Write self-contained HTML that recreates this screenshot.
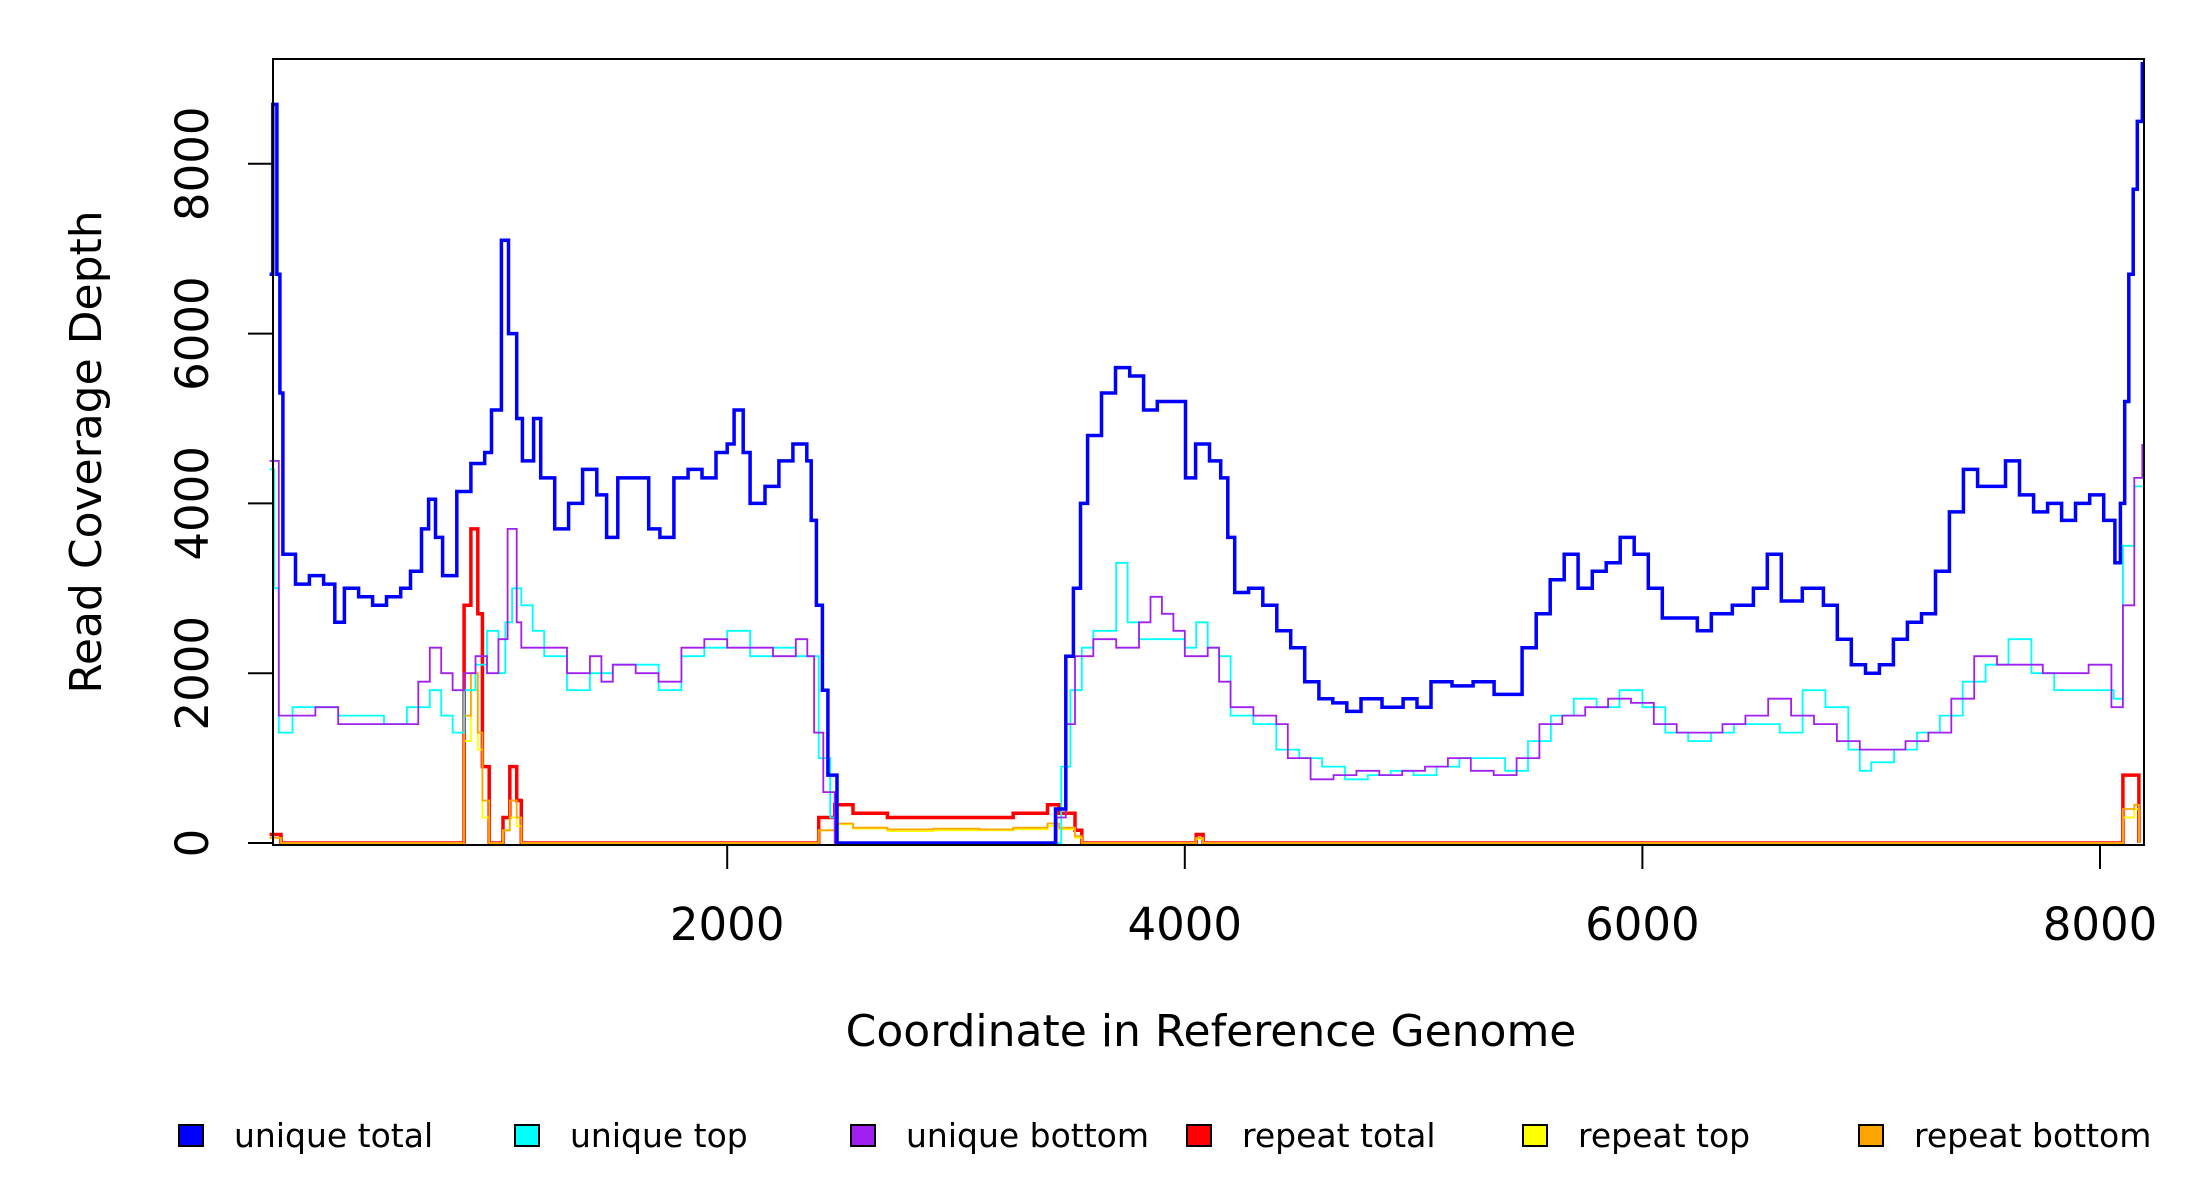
<!DOCTYPE html>
<html><head><meta charset="utf-8"><style>
html,body{margin:0;padding:0;background:#fff;}
svg{display:block;font-family:"DejaVu Sans","Liberation Sans",sans-serif;}
</style></head><body>
<svg id="chart" width="2200" height="1200" viewBox="0 0 2200 1200" xmlns="http://www.w3.org/2000/svg">
<rect x="0" y="0" width="2200" height="1200" fill="#fff"/>
<g id="series"></g>
<rect x="273" y="59" width="1871" height="786" fill="none" stroke="#000" stroke-width="2"/>
<g id="axes"></g>
<text x="1211" y="1046" font-size="44" text-anchor="middle">Coordinate in Reference Genome</text>
<text transform="translate(101,452) rotate(-90)" font-size="44" text-anchor="middle">Read Coverage Depth</text>
<g id="legend"></g>
</svg>
<script>
const xTicks=[2000,4000,6000,8000];
const yTicks=[0,2000,4000,6000,8000];
const seriesNames=["unique total","unique top","unique bottom","repeat total","repeat top","repeat bottom"];
const seriesColors=["#0000ff","#00ffff","#a020f0","#ff0000","#ffff00","#ffa500"];
const uniqueTotalX=[0,14,32,45,58,113,174,236,285,327,389,450,511,573,616,664,695,725,756,818,880,940,970,1013,1044,1080,1105,1154,1185,1246,1307,1368,1430,1473,1522,1596,1657,1706,1767,1829,1890,1951,2000,2030,2070,2100,2165,2226,2287,2348,2367,2390,2416,2440,2480,3421,3435,3480,3513,3544,3575,3636,3697,3759,3820,3880,3942,4003,4047,4108,4157,4188,4218,4279,4341,4402,4463,4524,4586,4647,4708,4770,4862,4954,5015,5076,5168,5260,5352,5413,5474,5536,5597,5658,5719,5781,5842,5903,5964,6026,6087,6179,6240,6301,6393,6485,6546,6607,6699,6791,6852,6913,6975,7036,7097,7158,7220,7281,7342,7403,7465,7526,7587,7648,7710,7771,7832,7893,7955,8016,8065,8089,8108,8126,8145,8163,8185];
const uniqueTotalY=[6700,8700,6700,5300,3400,3050,3150,3050,2600,3000,2900,2800,2900,3000,3200,3700,4050,3600,3150,4140,4470,4600,5100,7100,6000,5000,4500,5000,4300,3700,4000,4400,4100,3600,4300,4300,3700,3600,4300,4400,4300,4600,4700,5100,4600,4000,4200,4500,4700,4500,3800,2800,1800,800,0,0,400,2200,3000,4000,4800,5300,5600,5500,5100,5200,5200,4300,4700,4500,4300,3600,2950,3000,2800,2500,2300,1900,1700,1650,1550,1700,1600,1700,1600,1900,1850,1900,1750,1750,2300,2700,3100,3400,3000,3200,3300,3600,3400,3000,2650,2650,2500,2700,2800,3000,3400,2850,3000,2800,2400,2100,2000,2100,2400,2600,2700,3200,3900,4400,4200,4200,4500,4100,3900,4000,3800,4000,4100,3800,3300,4000,5200,6700,7700,8500,9200];
const uniqueTopX=[0,20,40,100,300,500,600,700,750,800,850,900,950,1000,1030,1060,1100,1150,1200,1300,1400,1500,1600,1700,1800,1900,2000,2100,2200,2300,2350,2400,2450,2480,3430,3460,3500,3550,3600,3700,3750,3800,3900,4000,4050,4100,4150,4200,4300,4400,4500,4600,4700,4800,4900,5000,5100,5200,5300,5400,5500,5600,5700,5800,5900,6000,6100,6200,6300,6400,6500,6600,6700,6800,6900,6950,7000,7100,7200,7300,7400,7500,7600,7700,7800,7900,8000,8060,8100,8150,8185];
const uniqueTopY=[4400,3000,1300,1600,1500,1400,1600,1800,1500,1300,1800,2100,2500,2000,2600,3000,2800,2500,2200,1800,2000,2100,2100,1800,2200,2300,2500,2200,2300,2200,2200,1000,300,0,0,900,1800,2300,2500,3300,2600,2400,2400,2300,2600,2300,2200,1500,1400,1100,1000,900,750,800,850,800,900,1000,1000,850,1200,1500,1700,1600,1800,1600,1300,1200,1300,1400,1400,1300,1800,1600,1100,850,950,1100,1300,1500,1900,2100,2400,2000,1800,1800,1800,1700,3500,4200,4200];
const uniqueBottomX=[0,40,200,300,400,500,600,650,700,750,800,850,900,950,1000,1040,1080,1100,1200,1300,1400,1450,1500,1600,1700,1800,1900,2000,2100,2200,2300,2350,2380,2420,2470,3440,3480,3520,3600,3700,3800,3850,3900,3950,4000,4100,4150,4200,4300,4400,4450,4550,4650,4750,4850,4950,5050,5150,5250,5350,5450,5550,5650,5750,5850,5950,6050,6150,6250,6350,6450,6550,6650,6750,6850,6950,7050,7150,7250,7350,7450,7550,7650,7750,7850,7950,8050,8100,8150,8185];
const uniqueBottomY=[4500,1500,1600,1400,1400,1400,1400,1900,2300,2000,1800,2000,2200,2000,2400,3700,2600,2300,2300,2000,2200,1900,2100,2000,1900,2300,2400,2300,2300,2200,2400,2200,1300,600,0,300,1400,2200,2400,2300,2600,2900,2700,2500,2200,2300,1900,1600,1500,1400,1000,750,800,850,800,850,900,1000,850,800,1000,1400,1500,1600,1700,1650,1400,1300,1300,1400,1500,1700,1500,1400,1200,1100,1100,1200,1300,1700,2200,2100,2100,2000,2000,2100,1600,2800,4300,4700];
const repeatTotalX=[0,50,840,850,880,910,930,960,1020,1050,1080,1100,2330,2400,2470,2550,2700,2900,3100,3250,3400,3450,3520,3550,4030,4050,4080,8080,8100,8150,8170];
const repeatTotalY=[100,0,0,2800,3700,2700,900,0,300,900,500,0,0,300,450,350,300,300,300,350,450,350,150,0,0,100,0,0,800,800,0];
const repeatTopX=[0,50,840,850,880,910,930,960,1020,1050,1080,1100,2330,2400,2470,2550,2700,2900,3100,3250,3400,3450,3520,3550,4030,4050,4080,8080,8100,8150,8170];
const repeatTopY=[60,0,0,1200,1800,1100,300,0,150,300,200,0,0,150,220,170,140,150,150,160,200,160,60,0,0,50,0,0,300,400,0];
const repeatBottomX=[0,50,840,850,880,910,930,960,1020,1050,1080,1100,2330,2400,2470,2550,2700,2900,3100,3250,3400,3450,3520,3550,4030,4050,4080,8080,8100,8150,8170];
const repeatBottomY=[60,0,0,1500,2000,1300,500,0,150,500,300,0,0,150,230,180,160,170,160,180,230,180,80,0,0,60,0,0,400,450,0];

const X0=269.6, XS=0.2288, Y0=843, YS=0.0849;
function sx(c){return X0+c*XS;}
function sy(v){return Y0-v*YS;}
const NS="http://www.w3.org/2000/svg";
function mk(tag,attrs){const e=document.createElementNS(NS,tag);for(const k in attrs)e.setAttribute(k,attrs[k]);return e;}
function stepPath(xs,ys){
  let d="M"+sx(xs[0]).toFixed(1)+","+sy(ys[0]).toFixed(1);
  for(let i=1;i<xs.length;i++){
    d+=" H"+sx(xs[i]).toFixed(1)+" V"+sy(ys[i]).toFixed(1);
  }
  return d;
}
const series=document.getElementById("series");
const data=[[uniqueTotalX,uniqueTotalY,3.5],[uniqueTopX,uniqueTopY,1.8],[uniqueBottomX,uniqueBottomY,1.8],[repeatTotalX,repeatTotalY,3.5],[repeatTopX,repeatTopY,1.8],[repeatBottomX,repeatBottomY,1.8]];
const order=[3,4,5,1,2,0];
const sNames=["line-unique-total","line-unique-top","line-unique-bottom","line-repeat-total","line-repeat-top","line-repeat-bottom"];
order.forEach(i=>{
  const p=mk("path",{d:stepPath(data[i][0],data[i][1]),fill:"none",stroke:seriesColors[i],"stroke-width":data[i][2],"stroke-linejoin":"miter"});
  
  
  series.appendChild(p);
});
const axes=document.getElementById("axes");
xTicks.forEach(t=>{
  const l=mk("line",{x1:sx(t),x2:sx(t),y1:845,y2:869,stroke:"#000","stroke-width":2});
  
  
  axes.appendChild(l);
  const tx=mk("text",{x:sx(t),y:940,"font-size":45,"text-anchor":"middle"});
  tx.textContent=t;
  
  
  axes.appendChild(tx);
});
yTicks.forEach(t=>{
  const l=mk("line",{x1:248,x2:273,y1:sy(t),y2:sy(t),stroke:"#000","stroke-width":2});
  
  
  axes.appendChild(l);
  const tx=mk("text",{transform:"translate(208,"+sy(t)+") rotate(-90)","font-size":45,"text-anchor":"middle"});
  tx.textContent=t;
  
  
  axes.appendChild(tx);
});
const legend=document.getElementById("legend");
const legX=[179,515,851,1187,1523,1859];
seriesNames.forEach((n,i)=>{
  const r=mk("rect",{x:legX[i],y:1125,width:24,height:21,fill:seriesColors[i],stroke:"#000","stroke-width":2});
  
  
  legend.appendChild(r);
  const t=mk("text",{x:legX[i]+55,y:1147,"font-size":33});
  t.textContent=n;
  
  
  legend.appendChild(t);
});
</script>
</body></html>
